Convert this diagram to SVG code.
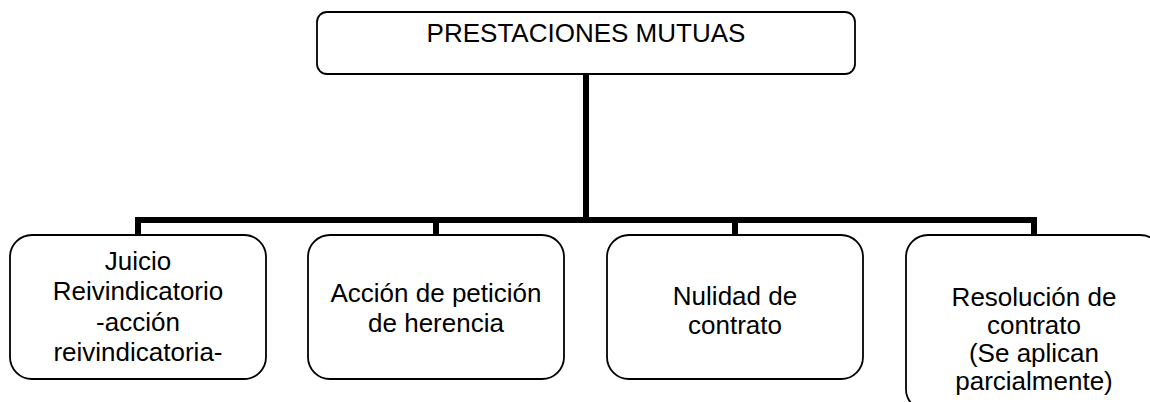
<svg xmlns="http://www.w3.org/2000/svg" width="1150" height="402" viewBox="0 0 1150 402">
<style>
.box{fill:#fff;stroke:#000;stroke-width:1.8}
.t{font-family:"Liberation Sans",Arial,sans-serif;font-size:26px;fill:#000;text-anchor:middle}
.c{fill:none;stroke:#000;stroke-width:6}
</style>
<rect width="1150" height="402" fill="#fff"/>
<g id="connectors">
<line class="c" x1="586" y1="74" x2="586" y2="220"/>
<polyline class="c" points="138,235 138,220 1034,220 1034,235" stroke-linejoin="miter"/>
<line class="c" x1="436" y1="220" x2="436" y2="235"/>
<line class="c" x1="735" y1="220" x2="735" y2="235"/>
</g>
<g id="root">
<rect class="box" x="317" y="12" width="538" height="62" rx="10"/>
<text class="t" x="586" y="42">PRESTACIONES MUTUAS</text>
</g>
<g id="n1">
<rect class="box" x="10" y="235" width="256" height="144" rx="22"/>
<text class="t" x="138" y="270">Juicio</text>
<text class="t" x="138" y="300">Reivindicatorio</text>
<text class="t" x="138" y="331">-acción</text>
<text class="t" x="138" y="361">reivindicatoria-</text>
</g>
<g id="n2">
<rect class="box" x="308" y="235" width="256" height="144" rx="22"/>
<text class="t" x="436" y="302">Acción de petición</text>
<text class="t" x="436" y="332">de herencia</text>
</g>
<g id="n3">
<rect class="box" x="607" y="235" width="256" height="144" rx="22"/>
<text class="t" x="735" y="305">Nulidad de</text>
<text class="t" x="735" y="334">contrato</text>
</g>
<g id="n4">
<rect class="box" x="906" y="235" width="256" height="176" rx="22"/>
<text class="t" x="1034" y="306">Resolución de</text>
<text class="t" x="1034" y="334">contrato</text>
<text class="t" x="1034" y="362">(Se aplican</text>
<text class="t" x="1034" y="390">parcialmente)</text>
</g>
</svg>
